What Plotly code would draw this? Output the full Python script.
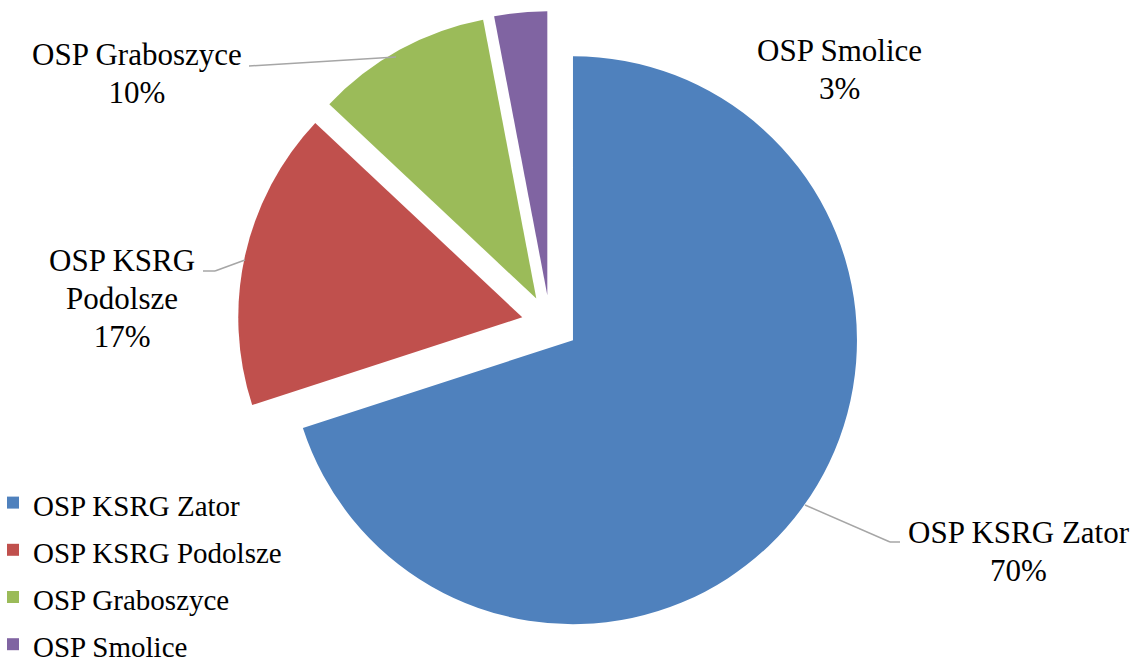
import plotly.graph_objects as go

# ---- data ----
categories = ["OSP KSRG Zator", "OSP KSRG Podolsze", "OSP Graboszyce", "OSP Smolice"]
values = [70, 17, 10, 3]
label_lines = ["OSP KSRG Zator", "OSP KSRG<br>Podolsze", "OSP Graboszyce", "OSP Smolice"]
colors = ["#4F81BD", "#C0504D", "#9BBB59", "#8064A2"]

W, H = 1136, 657
FONT = "Times New Roman"


def px(x, y):
    return x / W, 1 - y / H


def sized(text, size):
    return "<br>".join(f"<span style='font-size:{size}px'>{t}</span>" for t in text.split("<br>"))


total = sum(values)
pcts = [round(v / total * 100) for v in values]

fig = go.Figure()
fig.add_trace(go.Pie(
    labels=[sized(c, 29) for c in categories],
    values=values,
    sort=False,
    direction="clockwise",
    rotation=0,
    pull=[0.1] * len(values),
    marker=dict(colors=colors, line=dict(width=0)),
    textinfo="none",
    hoverinfo="percent",
    domain=dict(x=[237.6 / W, 862.4 / W], y=[21.1 / H, 645.9 / H]),
    showlegend=True,
))

# label positions (block centers, px) and leader lines
label_pos = [(1019, 551), (122, 299), (137, 73), (839, 69)]
leaders = [
    [(805, 505), (890, 542), (900, 542)],
    [(203, 271), (215, 271), (245, 260)],
    [(249, 66), (396, 57)],
    [],
]

annotations = []
for i, cat in enumerate(categories):
    x, y = px(*label_pos[i])
    annotations.append(dict(
        x=x, y=y, xref="paper", yref="paper",
        xanchor="center", yanchor="middle", align="center",
        text=sized(f"{label_lines[i]}<br>{pcts[i]}%", 31),
        showarrow=False,
        font=dict(family=FONT, size=29.2, color="#000000"),
    ))

shapes = []
for pts in leaders:
    for (x0, y0), (x1, y1) in zip(pts[:-1], pts[1:]):
        a0, b0 = px(x0, y0)
        a1, b1 = px(x1, y1)
        shapes.append(dict(type="line", xref="paper", yref="paper",
                           x0=a0, y0=b0, x1=a1, y1=b1,
                           line=dict(color="#A6A6A6", width=1.5)))

fig.update_layout(
    width=W, height=H, autosize=False,
    margin=dict(l=0, r=0, t=0, b=0, autoexpand=False),
    paper_bgcolor="#FFFFFF",
    plot_bgcolor="#FFFFFF",
    font=dict(family=FONT, color="#000000"),
    annotations=annotations,
    shapes=shapes,
    legend=dict(
        x=-7 / W, y=1 - 474 / H, xanchor="left", yanchor="top",
        font=dict(family=FONT, size=34, color="#000000"),
        bgcolor="rgba(0,0,0,0)",
        itemwidth=30,
    ),
)

fig.write_html("out.html", config={"displayModeBar": False},
               post_script="document.body.style.margin='0';")
